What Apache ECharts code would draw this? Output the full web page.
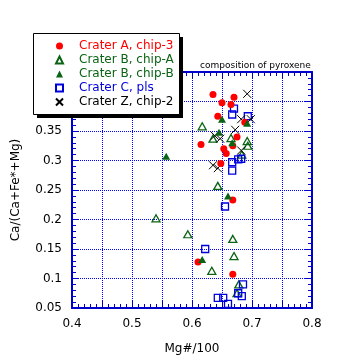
<!DOCTYPE html>
<html><head><meta charset="utf-8">
<script src="https://cdn.jsdelivr.net/npm/echarts@6/dist/echarts.min.js"></script>
<style>html,body{margin:0;padding:0;background:#fff}#c{width:360px;height:360px}</style>
</head><body><div id="c"></div>
<script>
// Series data: [Mg#/100, Ca/(Ca+Fe*+Mg)]
const craterA_chip3 = [[0.635,0.412],[0.670,0.407],[0.650,0.398],[0.665,0.395],[0.643,0.375],[0.688,0.365],[0.675,0.340],[0.668,0.325],[0.615,0.327],[0.653,0.320],[0.657,0.312],[0.648,0.295],[0.668,0.233],[0.610,0.128],[0.668,0.107]];
const craterB_chipA = [[0.617,0.358],[0.635,0.337],[0.665,0.338],[0.692,0.333],[0.693,0.325],[0.683,0.310],[0.643,0.257],[0.540,0.202],[0.593,0.175],[0.668,0.167],[0.670,0.138],[0.633,0.113],[0.678,0.090],[0.675,0.075]];
const craterB_chipB = [[0.650,0.370],[0.692,0.363],[0.645,0.348],[0.667,0.330],[0.557,0.307],[0.660,0.240],[0.617,0.132]];
const craterC_pls = [[0.670,0.388],[0.667,0.378],[0.693,0.375],[0.682,0.303],[0.677,0.302],[0.667,0.297],[0.667,0.283],[0.655,0.222],[0.622,0.150],[0.685,0.090],[0.677,0.075],[0.683,0.070],[0.643,0.067],[0.652,0.067],[0.660,0.057]];
const craterZ_chip2 = [[0.692,0.413],[0.682,0.370],[0.698,0.370],[0.672,0.352],[0.638,0.342],[0.647,0.337],[0.682,0.317],[0.635,0.292],[0.643,0.287]];
const seriesNames = ['Crater A, chip-3','Crater B, chip-A','Crater B, chip-B','Crater C, pls','Crater Z, chip-2'];
const xTickLabels = ['0.4','0.5','0.6','0.7','0.8'];
const yTickLabels = ['0.05','0.1','0.15','0.2','0.25','0.3','0.35','0.4','0.45'];

const FONT = 'DejaVu Sans';
const AX = '#0000cc';
const RED = '#ff0000', GREEN = '#0a6414', BLUE = '#0000dd', BLACK = '#000000';

function fmtX(v){ const s = (Math.round(v*100)/100).toFixed(1); return xTickLabels.indexOf(s) >= 0 && Math.abs(v*10-Math.round(v*10))<1e-6 ? s : ''; }
function fmtY(v){ const s = String(parseFloat(v.toFixed(2))); return yTickLabels.indexOf(s) >= 0 ? s : ''; }

const baseAxis = {
  axisLine:{show:true,onZero:false,lineStyle:{color:AX,width:2}},
  axisTick:{show:true,inside:true,length:7,lineStyle:{color:AX,width:1}},
  minorTick:{show:true,splitNumber:5,length:4,lineStyle:{color:AX,width:1}}
};

const chart = echarts.init(document.getElementById('c'), null, {renderer:'canvas'});
chart.setOption({
  backgroundColor:'#ffffff',
  animation:false,
  textStyle:{fontFamily:FONT},
  title:{text:'composition of pyroxene',left:200,top:61,padding:0,
    textStyle:{fontFamily:FONT,fontSize:9,fontWeight:'normal',color:'#000'}},
  grid:{left:72,top:72,right:48,bottom:48,containLabel:false},
  xAxis:[
    Object.assign({}, baseAxis, {type:'value',position:'bottom',min:0.4,max:0.8,interval:0.05,
      name:'Mg#/100',nameLocation:'middle',nameGap:35,
      nameTextStyle:{fontFamily:FONT,fontSize:12,color:'#000'},
      axisLabel:{formatter:fmtX,fontFamily:FONT,fontSize:12,color:'#000',margin:10,showMinLabel:true,showMaxLabel:true},
      splitLine:{show:true,lineStyle:{color:'#0000ff',type:'dotted',width:1}}}),
    Object.assign({}, baseAxis, {type:'value',position:'top',min:0.4,max:0.8,interval:0.05,
      axisLabel:{show:false},splitLine:{show:false}})
  ],
  yAxis:[
    Object.assign({}, baseAxis, {type:'value',position:'left',min:0.05,max:0.45,interval:0.05,
      name:'Ca/(Ca+Fe*+Mg)',nameLocation:'middle',nameGap:50,
      nameTextStyle:{fontFamily:FONT,fontSize:12,color:'#000'},
      axisLabel:{formatter:fmtY,fontFamily:FONT,fontSize:12,color:'#000',margin:10,showMinLabel:true,showMaxLabel:true},
      splitLine:{show:true,lineStyle:{color:'#0000ff',type:'dotted',width:1}}}),
    Object.assign({}, baseAxis, {type:'value',position:'right',min:0.05,max:0.45,interval:0.05,
      axisLabel:{show:false},splitLine:{show:false}})
  ],
  graphic:[
    {type:'rect',z:10,shape:{x:37,y:37,width:146,height:81},style:{fill:'#000'}},
    {type:'rect',z:11,shape:{x:33.5,y:33.5,width:146,height:81},style:{fill:'#fff',stroke:'#000',lineWidth:1}}
  ],
  legend:{orient:'vertical',left:33,top:33,padding:[6,4,5,22],itemWidth:7,itemHeight:7,itemGap:0,z:20,
    symbolKeepAspect:true,
    textStyle:{fontFamily:FONT,fontSize:12,lineHeight:14,padding:[0,0,0,11]},
    data:[
      {name:seriesNames[0],textStyle:{color:RED}},
      {name:seriesNames[1],textStyle:{color:GREEN}},
      {name:seriesNames[2],textStyle:{color:GREEN}},
      {name:seriesNames[3],textStyle:{color:BLUE}},
      {name:seriesNames[4],textStyle:{color:BLACK}}
    ]},
  series:[
    {name:seriesNames[1],type:'scatter',data:craterB_chipA,symbol:'triangle',symbolSize:[8,7],
      itemStyle:{opacity:1,color:'rgba(255,255,255,0)',borderColor:GREEN,borderWidth:1.3}},
    {name:seriesNames[3],type:'scatter',data:craterC_pls,symbol:'rect',symbolSize:7,
      itemStyle:{opacity:1,color:'rgba(255,255,255,0)',borderColor:BLUE,borderWidth:1.3}},
    {name:seriesNames[4],type:'scatter',data:craterZ_chip2,symbol:'path://M0,0L10,10M10,0L0,10',symbolSize:8,
      itemStyle:{opacity:1,color:'rgba(0,0,0,0)',borderColor:BLACK,borderWidth:1}},
    {name:seriesNames[0],type:'scatter',data:craterA_chip3,symbol:'circle',symbolSize:7,
      itemStyle:{opacity:1,color:RED}},
    {name:seriesNames[2],type:'scatter',data:craterB_chipB,symbol:'triangle',symbolSize:[8,7],
      itemStyle:{opacity:1,color:GREEN}}
  ]
});
</script></body></html>
